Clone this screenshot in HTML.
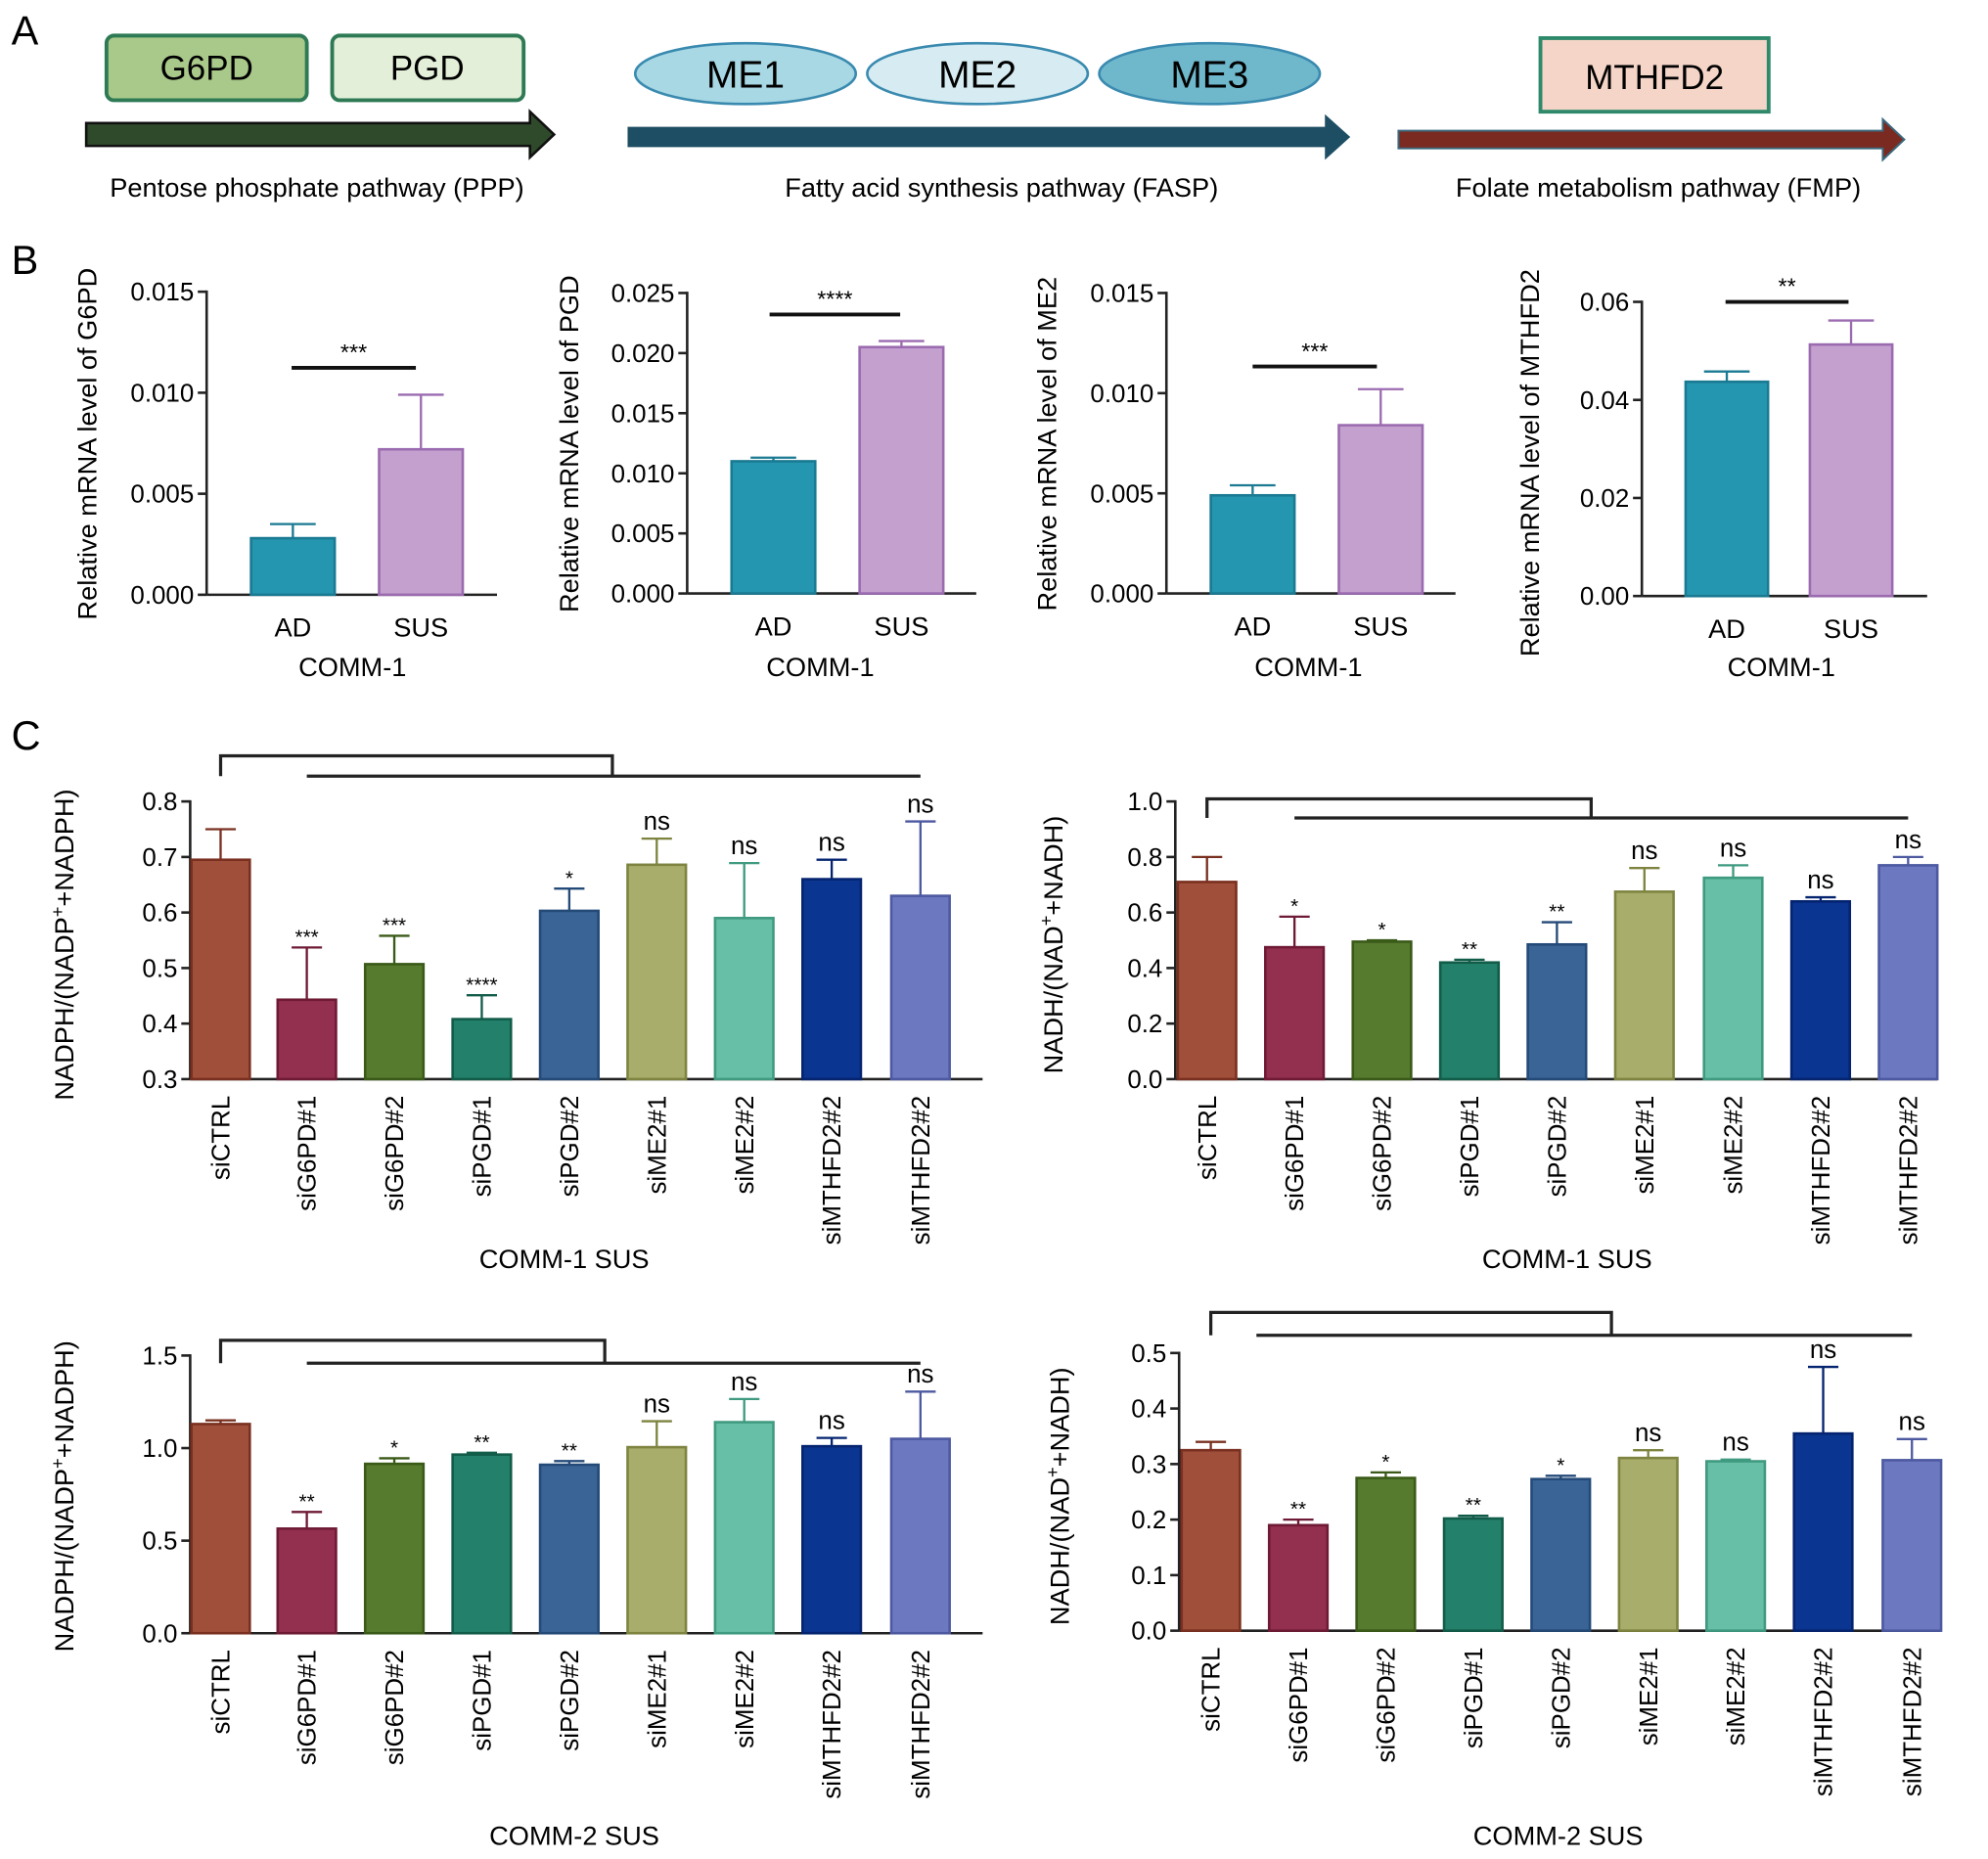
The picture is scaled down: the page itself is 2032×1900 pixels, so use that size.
<!DOCTYPE html>
<html><head><meta charset="utf-8"><style>
html,body{margin:0;padding:0;background:#fff;}
svg{display:block;font-family:"Liberation Sans",Arial,sans-serif;}
</style></head><body>
<svg id="fig" width="2032" height="1900" viewBox="0 0 1568 1466" xmlns="http://www.w3.org/2000/svg">
<g>
<text x="9" y="35" font-size="32">A</text>
<rect x="84" y="28" width="158" height="51" rx="6" fill="#a9c98a" stroke="#2e7a55" stroke-width="3"/>
<text x="163" y="63" font-size="27" text-anchor="middle">G6PD</text>
<rect x="262" y="28" width="151" height="51" rx="6" fill="#e3efd8" stroke="#2e7a55" stroke-width="3"/>
<text x="337" y="63" font-size="27" text-anchor="middle">PGD</text>
<polygon points="68,97 418,97 418,88 437,106 418,124 418,115 68,115" fill="#2f4a2a" stroke="#111" stroke-width="2"/>
<text x="250" y="155" font-size="21" text-anchor="middle">Pentose phosphate pathway (PPP)</text>
<ellipse cx="588" cy="58" rx="87" ry="24" fill="#a8d8e4" stroke="#3a8ab0" stroke-width="2"/>
<text x="588" y="69" font-size="30" text-anchor="middle">ME1</text>
<ellipse cx="771" cy="58" rx="87" ry="24" fill="#d6ecf2" stroke="#3a8ab0" stroke-width="2"/>
<text x="771" y="69" font-size="30" text-anchor="middle">ME2</text>
<ellipse cx="954" cy="58" rx="87" ry="24" fill="#6fb8cc" stroke="#3a8ab0" stroke-width="2"/>
<text x="954" y="69" font-size="30" text-anchor="middle">ME3</text>
<polygon points="495,100 1045,100 1045,90 1065,108 1045,126 1045,116 495,116" fill="#1d4e63"/>
<text x="790" y="155" font-size="21" text-anchor="middle">Fatty acid synthesis pathway (FASP)</text>
<rect x="1215" y="30" width="180" height="58" fill="#f5d5c8" stroke="#2e8a6a" stroke-width="3"/>
<text x="1305" y="70" font-size="27" text-anchor="middle">MTHFD2</text>
<polygon points="1103,103 1485,103 1485,94 1502,110 1485,126 1485,117 1103,117" fill="#7a2a20" stroke="#3a6a80" stroke-width="1.5"/>
<text x="1308" y="155" font-size="21" text-anchor="middle">Folate metabolism pathway (FMP)</text>
</g>
<text x="9" y="216" font-size="32">B</text>
<text x="9" y="591" font-size="32">C</text>
<g id="charts"></g>
</svg>
<script>
// Panel B data
const bCats = ["AD", "SUS"];
const bG6pdVals = [0.0028, 0.0072];
const bG6pdErr = [0.0035, 0.0099];
const bPgdVals = [0.011, 0.0205];
const bPgdErr = [0.0113, 0.021];
const bMe2Vals = [0.0049, 0.0084];
const bMe2Err = [0.0054, 0.0102];
const bMthfdVals = [0.0437, 0.0513];
const bMthfdErr = [0.0458, 0.0562];
const bG6pdTicks = [0, 0.005, 0.010, 0.015];
const bPgdTicks = [0, 0.005, 0.010, 0.015, 0.020, 0.025];
const bMe2Ticks = [0, 0.005, 0.010, 0.015];
const bMthfdTicks = [0, 0.02, 0.04, 0.06];
// Panel C data
const cCats = ["siCTRL","siG6PD#1","siG6PD#2","siPGD#1","siPGD#2","siME2#1","siME2#2","siMTHFD2#2","siMTHFD2#2"];
const c1Vals = [0.695,0.443,0.507,0.408,0.603,0.686,0.590,0.660,0.630];
const c1Err = [0.75,0.537,0.558,0.451,0.643,0.733,0.689,0.695,0.764];
const c1Sig = ["","***","***","****","*","ns","ns","ns","ns"];
const c2Vals = [0.71,0.475,0.495,0.42,0.485,0.675,0.725,0.64,0.77];
const c2Err = [0.80,0.585,0.50,0.43,0.565,0.76,0.77,0.655,0.80];
const c2Sig = ["","*","*","**","**","ns","ns","ns","ns"];
const c3Vals = [1.13,0.565,0.915,0.965,0.91,1.005,1.14,1.01,1.05];
const c3Err = [1.15,0.655,0.945,0.975,0.93,1.145,1.265,1.055,1.305];
const c3Sig = ["","**","*","**","**","ns","ns","ns","ns"];
const c4Vals = [0.325,0.19,0.275,0.202,0.273,0.311,0.305,0.355,0.307];
const c4Err = [0.34,0.2,0.285,0.207,0.279,0.325,0.308,0.475,0.345];
const c4Sig = ["","**","*","**","*","ns","ns","ns","ns"];
const c1Ticks = [0.3,0.4,0.5,0.6,0.7,0.8];
const c2Ticks = [0,0.2,0.4,0.6,0.8,1.0];
const c3Ticks = [0,0.5,1.0,1.5];
const c4Ticks = [0,0.1,0.2,0.3,0.4,0.5];

const NS="http://www.w3.org/2000/svg";
const root=document.getElementById('charts');
function mk(tag,attrs,parent,text){const e=document.createElementNS(NS,tag);for(const k in attrs)e.setAttribute(k,attrs[k]);if(text!==undefined)e.textContent=text;(parent||root).appendChild(e);return e;}
const cFill=["#a0503a","#93304f","#567a2e","#23806a","#3a6496","#a9ad6b","#66bfa6","#0a3590","#6c79c0"];
const cStroke=["#7a3020","#6e1a35","#3a5a18","#125c4a","#244a78","#7e8440","#3f9a80","#052470","#4d59a0"];

function chart(o){
  const g=mk('g',{});
  
  
  const t0=o.ticks[0],t1=o.ticks[o.ticks.length-1];
  const y=v=>o.y0+(v-t0)/(t1-t0)*(o.y1-o.y0);
  const ya=mk('line',{x1:o.ax,y1:o.y1-1,x2:o.ax,y2:o.y0,stroke:'#222','stroke-width':2},g);
  
  const xa=mk('line',{x1:o.ax,y1:o.y0,x2:o.axEnd,y2:o.y0,stroke:'#222','stroke-width':2},g);
  
  o.ticks.forEach(t=>{
    const yy=y(t);
    mk('line',{x1:o.ax-7,y1:yy,x2:o.ax,y2:yy,stroke:'#222','stroke-width':2},g);
    const tl=mk('text',{x:o.ax-10,y:yy+7,'font-size':20,'text-anchor':'end'},g,t.toFixed(o.dec));
    
  });
  o.vals.forEach((v,i)=>{
    const cx=o.centers[i],w=o.bw;
    const yt=y(v),ye=y(o.err[i]);
    const b=mk('rect',{x:cx-w/2,y:yt,width:w,height:o.y0-yt,fill:o.fill[i],stroke:o.stroke[i],'stroke-width':2},g);
    
    
    mk('line',{x1:cx,y1:yt,x2:cx,y2:ye,stroke:o.stroke[i],'stroke-width':1.8},g);
    mk('line',{x1:cx-o.cap,y1:ye,x2:cx+o.cap,y2:ye,stroke:o.stroke[i],'stroke-width':1.8},g);
    if(o.sig&&o.sig[i]){
      const s=o.sig[i];const ns=s==='ns';
      const st=mk('text',{x:cx,y:ye-(ns?7:3),'font-size':ns?20:16,'text-anchor':'middle'},g,s);
      
    }
    let xl;
    if(o.rot){
      xl=mk('text',{x:0,y:0,'font-size':20,'text-anchor':'end',transform:`translate(${cx+7},${o.y0+13}) rotate(-90)`},g,o.cats[i]);
    }else{
      xl=mk('text',{x:cx,y:o.y0+33,'font-size':21,'text-anchor':'middle'},g,o.cats[i]);
    }
    
  });
  const xt=mk('text',{x:o.xtX,y:o.xtY,'font-size':21,'text-anchor':'middle'},g,o.xtitle);
  
  const yt=mk('text',{x:0,y:0,'font-size':21,'text-anchor':'middle',transform:`translate(${o.ytX},${o.ytY}) rotate(-90)`},g);
  
  if(o.ytSup){
    mk('tspan',{},yt,o.ytSup[0]);mk('tspan',{dy:-8,'font-size':14},yt,'+');mk('tspan',{dy:8},yt,o.ytSup[1]);
  }else yt.textContent=o.ytitle;
  if(o.brackets){o.brackets.forEach(p=>{const l=mk('path',{d:p,fill:'none',stroke:'#222','stroke-width':2.5},g);});}
  if(o.sigB){const [x1,x2,yy,s]=o.sigB;mk('line',{x1:x1,y1:yy,x2:x2,y2:yy,stroke:'#111','stroke-width':3},g);
    const st=mk('text',{x:(x1+x2)/2,y:yy-6,'font-size':18,'text-anchor':'middle'},g,s);}
  return g;
}
const bF=["#2596b0","#c4a0cf"],bS=["#1a7a92","#9b6bb0"];
chart({name:'chart-g6pd',ax:163,axEnd:392,y0:469,y1:230,ticks:bG6pdTicks,dec:3,vals:bG6pdVals,err:bG6pdErr,cats:bCats,centers:[231,332],bw:66,cap:18,fill:bF,stroke:bS,xtitle:'COMM-1',xtX:278,xtY:533,ytitle:'Relative mRNA level of G6PD',ytX:76,ytY:350,sigB:[230,328,290,'***']});
chart({name:'chart-pgd',ax:542,axEnd:770,y0:468,y1:231,ticks:bPgdTicks,dec:3,vals:bPgdVals,err:bPgdErr,cats:bCats,centers:[610,711],bw:66,cap:18,fill:bF,stroke:bS,xtitle:'COMM-1',xtX:647,xtY:533,ytitle:'Relative mRNA level of PGD',ytX:456,ytY:350,sigB:[607,710,248,'****']});
chart({name:'chart-me2',ax:920,axEnd:1148,y0:468,y1:231,ticks:bMe2Ticks,dec:3,vals:bMe2Vals,err:bMe2Err,cats:bCats,centers:[988,1089],bw:66,cap:18,fill:bF,stroke:bS,xtitle:'COMM-1',xtX:1032,xtY:533,ytitle:'Relative mRNA level of ME2',ytX:833,ytY:350,sigB:[988,1086,289,'***']});
chart({name:'chart-mthfd2',ax:1295,axEnd:1520,y0:470,y1:238,ticks:bMthfdTicks,dec:2,vals:bMthfdVals,err:bMthfdErr,cats:bCats,centers:[1362,1460],bw:65,cap:18,fill:bF,stroke:bS,xtitle:'COMM-1',xtX:1405,xtY:533,ytitle:'Relative mRNA level of MTHFD2',ytX:1214,ytY:365,sigB:[1361,1458,238,'**']});

const cc1=[174,242,311,380,449,518,587,656,726];
const cc2=[952,1021,1090,1159,1228,1297,1367,1436,1505];
const cc4=[955,1024,1093,1162,1231,1300,1369,1438,1508];
chart({name:'chart-c-comm1-nadph',ax:150,axEnd:775,y0:851,y1:632,ticks:c1Ticks,dec:1,vals:c1Vals,err:c1Err,sig:c1Sig,cats:cCats,centers:cc1,bw:46,cap:12,fill:cFill,stroke:cStroke,rot:true,xtitle:'COMM-1 SUS',xtX:445,xtY:1000,ytSup:['NADPH/(NADP','+NADPH)'],ytX:58,ytY:745,
  brackets:['M174,612 L174,596 L483,596 L483,612','M242,612 L726,612']});
chart({name:'chart-c-comm1-nadh',ax:927,axEnd:1528,y0:851,y1:632,ticks:c2Ticks,dec:1,vals:c2Vals,err:c2Err,sig:c2Sig,cats:cCats,centers:cc2,bw:46,cap:12,fill:cFill,stroke:cStroke,rot:true,xtitle:'COMM-1 SUS',xtX:1236,xtY:1000,ytSup:['NADH/(NAD','+NADH)'],ytX:838,ytY:745,
  brackets:['M952,645 L952,630 L1255,630 L1255,645','M1021,645 L1505,645']});
chart({name:'chart-c-comm2-nadph',ax:150,axEnd:775,y0:1288,y1:1069,ticks:c3Ticks,dec:1,vals:c3Vals,err:c3Err,sig:c3Sig,cats:cCats,centers:cc1,bw:46,cap:12,fill:cFill,stroke:cStroke,rot:true,xtitle:'COMM-2 SUS',xtX:453,xtY:1455,ytSup:['NADPH/(NADP','+NADPH)'],ytX:58,ytY:1180,
  brackets:['M174,1075 L174,1057 L477,1057 L477,1075','M242,1075 L726,1075']});
chart({name:'chart-c-comm2-nadh',ax:930,axEnd:1530,y0:1286,y1:1067,ticks:c4Ticks,dec:1,vals:c4Vals,err:c4Err,sig:c4Sig,cats:cCats,centers:cc4,bw:46,cap:12,fill:cFill,stroke:cStroke,rot:true,xtitle:'COMM-2 SUS',xtX:1229,xtY:1455,ytSup:['NADH/(NAD','+NADH)'],ytX:843,ytY:1180,
  brackets:['M955,1053 L955,1035 L1271,1035 L1271,1053','M991,1053 L1508,1053']});
</script>
</body></html>
